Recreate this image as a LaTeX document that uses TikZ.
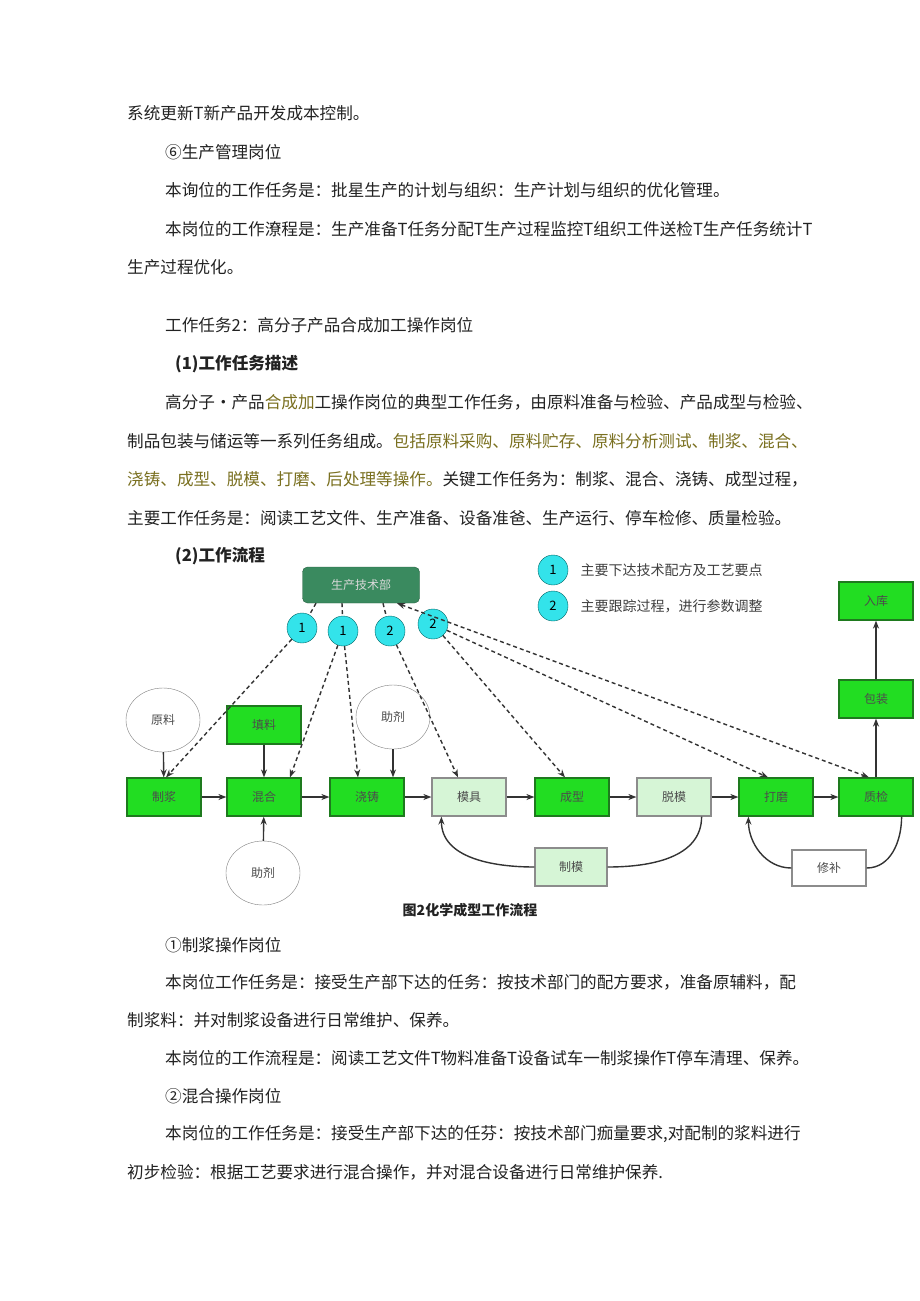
\documentclass[tikz,border=0pt]{standalone}
\usepackage{fontspec}
\setmainfont{Noto Sans CJK SC}
\usetikzlibrary{arrows.meta,shapes.geometric}
\definecolor{olv}{HTML}{7A7020}
\definecolor{txt}{HTML}{222222}
\definecolor{gbox}{HTML}{22DD22}
\definecolor{gbord}{HTML}{1E7A1E}
\definecolor{lbox}{HTML}{D6F5D6}
\definecolor{dkg}{HTML}{3A8A5F}
\definecolor{cy}{HTML}{33E3EA}
\tikzset{
 line/.style={anchor=west,inner sep=0pt,font=\fontsize{16.6pt}{18pt}\selectfont,text=txt},
 gb/.style={draw=gbord,fill=gbox,line width=1.2pt,minimum width=74pt,minimum height=38pt,inner sep=0pt,font=\fontsize{12pt}{13pt}\selectfont,text=black!70},
 lb/.style={gb,draw=black!45,fill=lbox},
 wb/.style={gb,draw=black!45,fill=white},
 el/.style={draw=black!50,ellipse,minimum width=74pt,minimum height=64pt,inner sep=0pt,font=\fontsize{12pt}{13pt}\selectfont,text=black!70},
 cir/.style={circle,draw=teal!80!black,fill=cy,minimum size=30pt,inner sep=0pt,font=\fontsize{13pt}{14pt}\selectfont},
 ar/.style={-{Stealth[length=8pt]},line width=1.4pt,black!80},
 da/.style={ar,dash pattern=on 4pt off 3pt},
}
\begin{document}
\begin{tikzpicture}[x=1pt,y=-1pt]
\useasboundingbox[fill=white] (0,0) rectangle (920,1301);
\node[line] at (127,113) {系统更新T新产品开发成本控制。};
\node[line] at (165,152) {⑥生产管理岗位};
\node[line] at (165,190) {本询位的工作任务是：批星生产的计划与组织：生产计划与组织的优化管理。};
\node[line] at (165,229) {本岗位的工作潦程是：生产准备T任务分配T生产过程监控T组织工件送检T生产任务统计T};
\node[line] at (127,267) {生产过程优化。};
\node[line] at (165,325) {工作任务2：高分子产品合成加工操作岗位};
\node[line,font=\fontsize{16.6pt}{18pt}\selectfont\bfseries] at (175,364) {(1)工作任务描述};
\node[line] at (165,402) {高分子•产品\textcolor{olv}{合成加}工操作岗位的典型工作任务，由原料准备与检验、产品成型与检验、};
\node[line] at (127,441) {制品包装与储运等一系列任务组成。\textcolor{olv}{包括原料采购、原料贮存、原料分析测试、制浆、混合、}};
\node[line] at (127,479) {\textcolor{olv}{浇铸、成型、脱模、打磨、后处理等操作。}关键工作任务为：制浆、混合、浇铸、成型过程，};
\node[line] at (127,518) {主要工作任务是：阅读工艺文件、生产准备、设备准爸、生产运行、停车检修、质量检验。};
\node[line,font=\fontsize{16.6pt}{18pt}\selectfont\bfseries] at (175,556) {(2)工作流程};
\node[line] at (165,945) {①制浆操作岗位};
\node[line] at (165,982) {本岗位工作任务是：接受生产部下达的任务：按技术部门的配方要求，准备原辅料，配};
\node[line] at (127,1020) {制浆料：并对制浆设备进行日常维护、保养。};
\node[line] at (165,1058) {本岗位的工作流程是：阅读工艺文件T物料准备T设备试车一制浆操作T停车清理、保养。};
\node[line] at (165,1096) {②混合操作岗位};
\node[line] at (165,1134) {本岗位的工作任务是：接受生产部下达的任芬：按技术部门痂量要求,对配制的浆料进行};
\node[line] at (127,1172) {初步检验：根据工艺要求进行混合操作，并对混合设备进行日常维护保养.};
\node[line,font=\fontsize{14pt}{15pt}\selectfont\bfseries,anchor=center] (cap) at (470,910) {图2化学成型工作流程};
% diagram
\node[draw=dkg!70!black,fill=dkg,rounded corners=5pt,minimum width=117pt,minimum height=36pt,font=\fontsize{12pt}{13pt}\selectfont,text=white!85!black] (top) at (361,585) {生产技术部};
\node[cir] (l1) at (553,570) {1};
\node[anchor=west,font=\fontsize{14pt}{15pt}\selectfont,text=black!75] (lt1) at (577,570) {主要下达技术配方及工艺要点};
\node[cir] (l2) at (553,606) {2};
\node[anchor=west,font=\fontsize{14pt}{15pt}\selectfont,text=black!75] (lt2) at (577,606) {主要跟踪过程，进行参数调整};
\node[cir] (c1) at (302,628) {1};
\node[cir] (c2) at (343,631) {1};
\node[cir] (c3) at (390,631) {2};
\node[cir] (c4) at (433,624) {2};
\node[gb] (zj) at (164,797) {制浆};
\node[gb] (hh) at (264,797) {混合};
\node[gb] (jz) at (367,797) {浇铸};
\node[lb] (mj) at (469,797) {模具};
\node[gb] (cx) at (572,797) {成型};
\node[lb] (tm) at (674,797) {脱模};
\node[gb] (dm) at (776,797) {打磨};
\node[gb] (zjy) at (876,797) {质检};
\node[gb] (tl) at (264,725) {填料};
\node[gb] (bz) at (876,699) {包装};
\node[gb] (rk) at (876,601) {入库};
\node[lb,minimum width=72pt] (zm) at (571,867) {制模};
\node[wb,minimum height=36pt] (xb) at (829,868) {修补};
\node[el] (yl) at (163,720) {原料};
\node[el] (zjA) at (393,717) {助剂};
\node[el] (zjB) at (263,873) {助剂};
% solid arrows
\draw[ar] (yl) -- (zj);
\draw[ar] (tl) -- (hh);
\draw[ar] (zjA.south) -- (zjA.south|-jz.north);
\draw[ar] (zjB) -- (hh);
\draw[ar] (zj) -- (hh);
\draw[ar] (hh) -- (jz);
\draw[ar] (jz) -- (mj);
\draw[ar] (mj) -- (cx);
\draw[ar] (cx) -- (tm);
\draw[ar] (tm) -- (dm);
\draw[ar] (dm) -- (zjy);
\draw[ar] (zjy) -- (bz);
\draw[ar] (bz) -- (rk);
\draw[line width=1.4pt,black!80] (tm.south east)++(-10,0) to[out=-90,in=0] (zm.east);
\draw[ar] (zm.west) to[out=180,in=-90] ([xshift=10pt]mj.south west);
\draw[line width=1.4pt,black!80] (zjy.south east)++(-12,0) to[out=-90,in=0] (xb.east);
\draw[ar] (xb.west) to[out=180,in=-90] ([xshift=10pt]dm.south west);
% dashed
\draw[da,-] ([xshift=-45pt]top.south) -- (c1);
\draw[da,-] ([xshift=-19pt]top.south) -- (c2);
\draw[da,-] ([xshift=22pt]top.south) -- (c3);
\draw[da] (c1) -- ([xshift=2pt]zj.north);
\draw[da] (c2) -- ([xshift=26pt]hh.north);
\draw[da] (c2) -- ([xshift=-9pt]jz.north);
\draw[da] (c3) -- ([xshift=-11pt]mj.north);
\draw[da] (c4) -- ([xshift=-7pt]cx.north);
\draw[da] (c4) -- ([xshift=-8pt]dm.north);
\draw[da,{Stealth[length=8pt]}-{Stealth[length=8pt]}] ([xshift=36pt]top.south) -- ([xshift=-7pt]zjy.north);
\end{tikzpicture}
\end{document}
